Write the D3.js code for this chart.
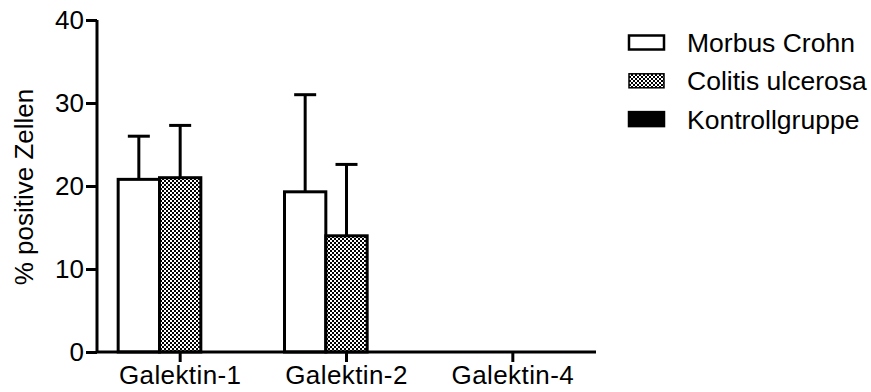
<!DOCTYPE html>
<html>
<head>
<meta charset="utf-8">
<script src="https://cdn.jsdelivr.net/npm/d3@7"></script>
<style>
  body { margin: 0; background: #fff; }
  text { font-family: "Liberation Sans", Arial, sans-serif; fill: #000; }
</style>
</head>
<body>
<svg id="chart" width="871" height="392"></svg>
<script>
// Data
const categories = ['Galektin-1', 'Galektin-2', 'Galektin-4'];
const groups = ['Morbus Crohn', 'Colitis ulcerosa', 'Kontrollgruppe'];
const meanMC = [20.8, 19.3, 0];
const errMC = [5.2, 11.7, 0];
const meanCU = [21.0, 14.0, 0];
const errCU = [6.3, 8.6, 0];
const meanKG = [0, 0, 0];
const errKG = [0, 0, 0];
const yTicks = [0, 10, 20, 30, 40];

const series = [
  { name: groups[0], means: meanMC, errs: errMC, fill: '#fff', legendStroke: 2.5 },
  { name: groups[1], means: meanCU, errs: errCU, fill: 'url(#checker)', legendStroke: 1.5 },
  { name: groups[2], means: meanKG, errs: errKG, fill: '#000', legendStroke: 2.5 }
];

const svg = d3.select('#chart');

// checker pattern for Colitis ulcerosa
const pat = svg.append('defs').append('pattern')
  .attr('id', 'checker')
  .attr('patternUnits', 'userSpaceOnUse')
  .attr('width', 4).attr('height', 4);
pat.append('rect').attr('width', 4).attr('height', 4).attr('fill', '#fff');
pat.append('rect').attr('x', 0).attr('y', 0).attr('width', 2).attr('height', 2).attr('fill', '#000');
pat.append('rect').attr('x', 2).attr('y', 2).attr('width', 2).attr('height', 2).attr('fill', '#000');

const x0 = d3.scaleBand().domain(categories).range([97, 596]).padding(0);
const x1 = d3.scaleBand().domain(groups).range([0, 124]).padding(0);
const y = d3.scaleLinear().domain([0, 40]).range([352, 20]);

const groupOffset = (x0.bandwidth() - 124) / 2;

// bars
series.forEach(s => {
  const g = svg.append('g');
  categories.forEach((c, i) => {
    const bx = x0(c) + groupOffset + x1(s.name);
    const cx = bx + x1.bandwidth() / 2;
    if (s.means[i] > 0) {
      // error bar (upper only)
      g.append('line')
        .attr('x1', cx).attr('x2', cx)
        .attr('y1', y(s.means[i])).attr('y2', y(s.means[i] + s.errs[i]))
        .attr('stroke', '#000').attr('stroke-width', 3);
      g.append('line')
        .attr('x1', cx - 11).attr('x2', cx + 11)
        .attr('y1', y(s.means[i] + s.errs[i])).attr('y2', y(s.means[i] + s.errs[i]))
        .attr('stroke', '#000').attr('stroke-width', 3);
      g.append('rect')
        .attr('x', bx).attr('y', y(s.means[i]))
        .attr('width', x1.bandwidth()).attr('height', y(0) - y(s.means[i]))
        .attr('fill', s.fill)
        .attr('stroke', '#000').attr('stroke-width', 3);
    }
  });
});

// y axis
const yAxis = svg.append('g')
  .attr('transform', 'translate(97,0)')
  .call(d3.axisLeft(y).tickValues(yTicks).tickSize(11).tickPadding(2));
yAxis.select('.domain').attr('stroke-width', 3).attr('d', 'M0,' + y(40) + 'V' + y(0));
yAxis.selectAll('.tick line').attr('stroke-width', 3);
yAxis.selectAll('.tick text').style('font-size', '26px').attr('font-family', null);

// x axis
const xAxis = svg.append('g')
  .attr('transform', 'translate(0,352)')
  .call(d3.axisBottom(x0).tickSize(10).tickPadding(4));
xAxis.select('.domain').attr('stroke-width', 3).attr('d', 'M97,0H596');
xAxis.selectAll('.tick line').attr('stroke-width', 3);
xAxis.selectAll('.tick text').style('font-size', '26px').attr('font-family', null)
  .style('letter-spacing', '0.4px');

// y label
svg.append('text')
  .attr('transform', 'translate(33,187) rotate(-90)')
  .attr('text-anchor', 'middle')
  .style('font-size', '26px')
  .text('% positive Zellen');

// legend
const legend = svg.append('g').attr('transform', 'translate(629,0)');
series.forEach((s, i) => {
  const yy = 42.5 + i * 38.3;
  legend.append('rect')
    .attr('x', 0).attr('y', yy - 7)
    .attr('width', 35).attr('height', 14)
    .attr('fill', s.fill)
    .attr('stroke', '#000').attr('stroke-width', s.legendStroke);
  legend.append('text')
    .attr('x', 58).attr('y', yy)
    .attr('dy', '0.36em')
    .style('font-size', '26.5px')
    .text(s.name);
});
</script>
</body>
</html>
